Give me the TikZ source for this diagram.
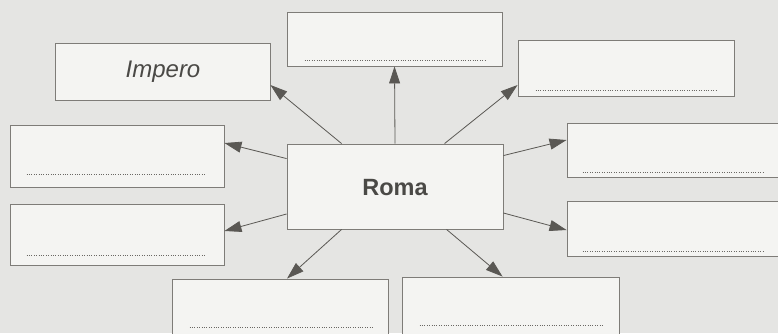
\documentclass[tikz,border=0pt]{standalone}
\usepackage{fontspec}
\setmainfont{Liberation Sans}
\usetikzlibrary{arrows.meta,calc}
\definecolor{bg}{HTML}{E5E5E3}
\definecolor{boxfill}{HTML}{F4F4F2}
\definecolor{boxline}{HTML}{7E7C78}
\definecolor{dotc}{HTML}{6A6864}
\definecolor{arrowc}{HTML}{5A5854}
\definecolor{txt}{HTML}{4A4946}
\tikzset{
  box/.style={draw=boxline, line width=0.9pt, fill=boxfill, rectangle, inner sep=0pt},
  dots/.style={draw=dotc, line width=1.1pt, dash pattern=on 1pt off 1.4pt},
  conn/.style={draw=arrowc, line width=0.8pt, -{Triangle[length=17pt,width=11pt]}, arrowc},
}
\begin{document}
\begin{tikzpicture}[x=1pt,y=-1pt]
\fill[bg] (0,0) rectangle (778,333);
\useasboundingbox (0,0) rectangle (778,333);
\clip (0,0) rectangle (778,333);
% boxes
\node[box, minimum width=215pt, minimum height=54pt] (top) at (394.5,39) {};
\node[box, minimum width=215pt, minimum height=57pt] (impero) at (162.5,71.5) {};
\node[box, minimum width=216pt, minimum height=56pt] (topright) at (626,68) {};
\node[box, minimum width=214pt, minimum height=62pt] (leftmid) at (117,156) {};
\node[box, minimum width=214pt, minimum height=61pt] (leftlow) at (117,234.5) {};
\node[box, minimum width=216pt, minimum height=85pt] (roma) at (395,186.5) {};
\node[box, minimum width=230pt, minimum height=54pt] (rightup) at (682,150) {};
\node[box, minimum width=230pt, minimum height=55pt] (rightlow) at (682,228.5) {};
\node[box, minimum width=216pt, minimum height=58pt] (botleft) at (280,308) {};
\node[box, minimum width=217pt, minimum height=57pt] (botright) at (510.5,305.5) {};
% texts
\node[text=txt, font=\fontsize{24}{26}\selectfont\itshape] (tImpero) at (163,72) {Impero};
\node[text=txt, font=\fontsize{23.5}{26}\selectfont\bfseries] (tRoma) at (395,188) {Roma};
% dotted lines
\draw[dots] ($(top.south west)+(18,-6)$) -- ($(top.south east)+(-17,-6)$);
\draw[dots] ($(topright.south west)+(18,-6)$) -- ($(topright.south east)+(-17,-6)$);
\draw[dots] ($(leftmid.south west)+(17,-13)$) -- ($(leftmid.south east)+(-18,-13)$);
\draw[dots] ($(leftlow.south west)+(17,-10)$) -- ($(leftlow.south east)+(-18,-10)$);
\draw[dots] ($(rightup.south west)+(16,-5)$) -- ($(rightup.south west)+(198,-5)$);
\draw[dots] ($(rightlow.south west)+(16,-5)$) -- ($(rightlow.south west)+(198,-5)$);
\draw[dots] ($(botleft.north west)+(18,49)$) -- ($(botleft.north east)+(-16,49)$);
\draw[dots] ($(botright.north west)+(18,49)$) -- ($(botright.north east)+(-17,49)$);
% connectors
\draw[conn] ($(roma.north west)+(55,0)$) -- ($(impero.east)+(0,13.5)$);
\draw[conn] (roma.north) -- (top.south);
\draw[conn] ($(roma.north west)+(158,0)$) -- ($(topright.west)+(0,17)$);
\draw[conn] ($(roma.north east)+(0,12)$) -- ($(rightup.west)+(0,-10)$);
\draw[conn] ($(roma.north west)+(0,15)$) -- ($(leftmid.east)+(0,-13)$);
\draw[conn] ($(roma.west)+(0,27.5)$) -- ($(leftlow.east)+(0,-3.5)$);
\draw[conn] ($(roma.east)+(0,26.5)$) -- ($(rightlow.west)+(0,1.5)$);
\draw[conn] ($(roma.south west)+(55,0)$) -- ($(botleft.north)+(7,0)$);
\draw[conn] ($(roma.south west)+(160,0)$) -- ($(botright.north west)+(101,0)$);
\end{tikzpicture}
\end{document}
